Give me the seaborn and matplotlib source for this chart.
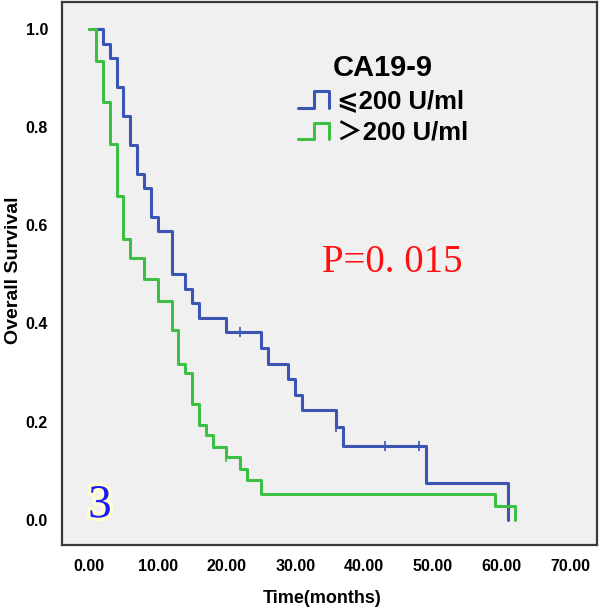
import numpy as np
import pandas as pd
import seaborn as sns
import matplotlib.pyplot as plt
from matplotlib.lines import Line2D
from matplotlib.legend_handler import HandlerBase
import matplotlib.patheffects as pe

# Curvas de Kaplan-Meier
t_bajo = [0, 2, 3, 4, 5, 6, 7, 8, 9, 10, 12, 14, 15, 16, 20, 25, 26, 29, 30, 31, 36, 37, 49, 61]
s_bajo = [1.0, 0.971, 0.941, 0.882, 0.824, 0.765, 0.706, 0.676, 0.618, 0.588, 0.500, 0.471,
          0.441, 0.412, 0.382, 0.350, 0.318, 0.287, 0.255, 0.223, 0.188, 0.150, 0.075, 0.0]
cens_t_bajo = [22, 36, 43, 48]
cens_s_bajo = [0.382, 0.188, 0.150, 0.150]

t_alto = [0, 1, 2, 3, 4, 5, 6, 8, 10, 12, 13, 14, 15, 16, 17, 18, 20, 22, 23, 25, 59, 62]
s_alto = [1.0, 0.936, 0.852, 0.766, 0.660, 0.573, 0.533, 0.490, 0.446, 0.386, 0.318, 0.299,
          0.235, 0.192, 0.172, 0.148, 0.128, 0.104, 0.080, 0.053, 0.027, 0.0]
cens_t_alto = [20]
cens_s_alto = [0.128]

grupos = ["\u2a7d200 U/ml", "\uff1e200 U/ml"]
colores = ["#3a55b4", "#3cc043"]

df = pd.concat([
    pd.DataFrame({"t": t_bajo, "s": s_bajo, "grupo": grupos[0]}),
    pd.DataFrame({"t": t_alto, "s": s_alto, "grupo": grupos[1]}),
])
cens = pd.concat([
    pd.DataFrame({"t": cens_t_bajo, "s": cens_s_bajo, "grupo": grupos[0]}),
    pd.DataFrame({"t": cens_t_alto, "s": cens_s_alto, "grupo": grupos[1]}),
])

sns.set_style("white")
plt.rcParams["font.family"] = ["Liberation Sans", "DejaVu Sans"]
plt.rcParams["font.weight"] = "bold"
plt.rcParams["text.color"] = "black"
plt.rcParams["axes.labelcolor"] = "black"
plt.rcParams["xtick.color"] = "black"
plt.rcParams["ytick.color"] = "black"


class StepHandler(HandlerBase):
    # icono escalonado como en SPSS
    def create_artists(self, legend, orig_handle, xdescent, ydescent, width, height, fontsize, trans):
        x0, y0 = -xdescent, -ydescent
        xs = [x0, x0 + width * 0.5, x0 + width * 0.5, x0 + width, x0 + width]
        ys = [y0, y0, y0 + height, y0 + height, y0]
        ln = Line2D(xs, ys, color=orig_handle.get_color(), lw=2.2, transform=trans)
        return [ln]


fig = plt.figure(figsize=(6, 6.12), dpi=100)
ax = fig.add_axes([62 / 600, 67 / 612, 535 / 600, 543 / 612])
ax.set_facecolor("#f0f0f0")

sns.lineplot(data=df, x="t", y="s", hue="grupo", palette=colores, drawstyle="steps-post",
             lw=2.2, legend=False, ax=ax, estimator=None)
for g, c in zip(grupos, colores):
    d = cens[cens.grupo == g]
    ax.scatter(d.t, d.s, marker="|", s=60, color=c, linewidths=1.2, zorder=3)

ax.set_xlim(-3.93, 73.9)
ax.set_ylim(-0.052, 1.056)
ax.set_xticks(np.arange(0, 71, 10))
ax.set_yticks(np.arange(0, 1.01, 0.2))
ax.set_xticklabels([f"{v:.2f}" for v in np.arange(0, 71, 10)])
ax.set_yticklabels([f"{v:.1f}" for v in np.arange(0, 1.01, 0.2)])
ax.tick_params(direction="out", length=6, width=1.3, color="#333333", labelsize=11.5, pad=4)
for sp in ax.spines.values():
    sp.set_color("#3a3a3a")
    sp.set_linewidth(1.6)

ax.set_xlabel("Time(months)", fontsize=13, fontweight="bold", va="center")
ax.set_ylabel("Overall Survival", fontsize=14, fontweight="bold", va="center")
ax.xaxis.set_label_coords(0.486, -0.098)
ax.yaxis.set_label_coords(-0.09, 0.506)

handles = [Line2D([], [], color=c) for c in colores]
leg = ax.legend(handles, grupos, handler_map={Line2D: StepHandler()}, title="CA19-9",
                loc="upper center", bbox_to_anchor=(383 / 600, 1 - 41 / 612),
                bbox_transform=fig.transFigure, frameon=False,
                prop={"size": 18.5, "weight": "bold",
                      "family": ["Liberation Sans", "Noto Sans CJK SC", "DejaVu Sans"]},
                title_fontproperties={"size": 21, "weight": "bold"},
                handlelength=1.2, handleheight=0.6, handletextpad=0.3, labelspacing=0.3,
                borderpad=0)

fig.text(392 / 600, 1 - 263 / 612, "P=0. 015", color="#ff1010", fontsize=28,
         family="Liberation Serif", fontweight="normal", ha="center", va="center")
fig.text(100 / 600, 1 - 506 / 612, "3", color="#1a1aff", fontsize=34,
         family="Liberation Serif", fontweight="normal", ha="center", va="center",
         path_effects=[pe.withStroke(linewidth=5, foreground="#ffffd2")])

fig.savefig("out.png", dpi=100)
